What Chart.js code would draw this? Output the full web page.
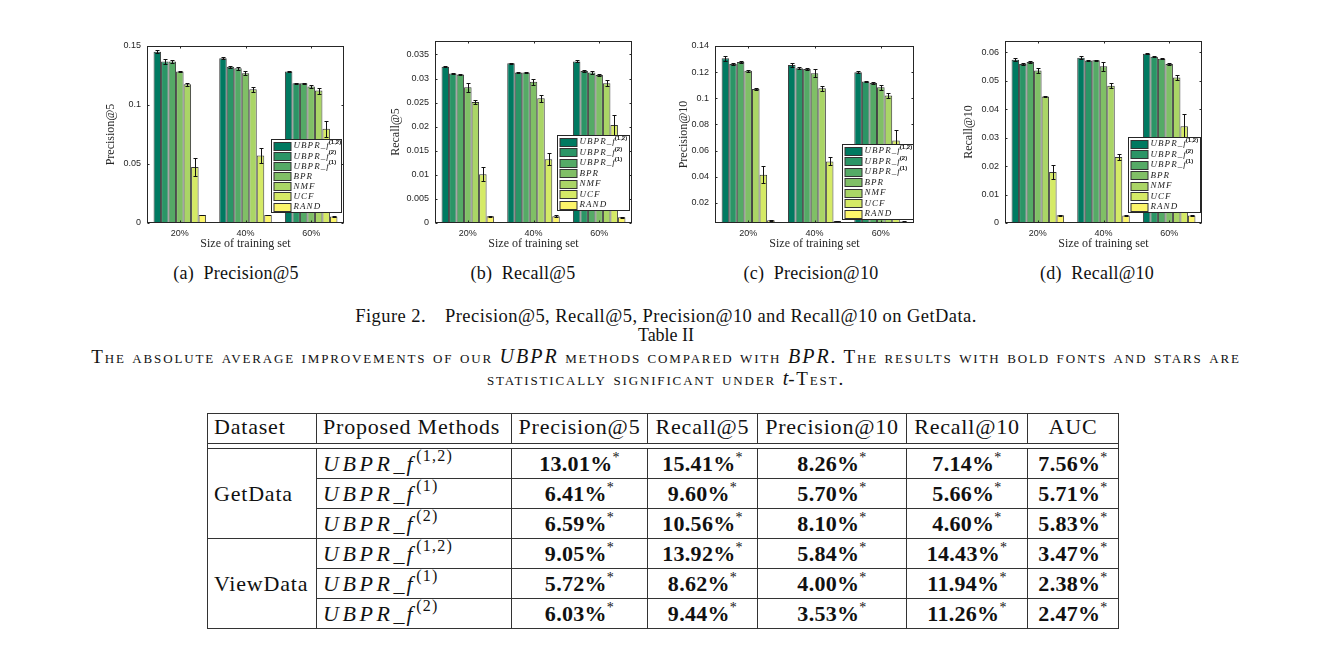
<!DOCTYPE html>
<html><head><meta charset="utf-8">
<script src="https://cdn.jsdelivr.net/npm/chart.js@4.4.1/dist/chart.umd.min.js"></script>
<style>
html,body{margin:0;padding:0;background:#fff;}
body{width:1318px;height:666px;position:relative;overflow:hidden;font-family:"Liberation Serif","Times New Roman",serif;color:#111;}
canvas{position:absolute;}
.t{position:absolute;text-align:center;white-space:nowrap;font-size:18px;line-height:22px;}
.cap{letter-spacing:0.25px;}
.fig{font-size:18.5px;letter-spacing:0.45px;}
.sc{font-variant:small-caps;font-size:19px;letter-spacing:1.85px;}
.mi{font-style:italic;font-variant:normal;letter-spacing:2px;font-size:20px;}
table{position:absolute;left:207px;top:413px;border-collapse:collapse;table-layout:fixed;font-size:22px;}
td,th{border:1px solid #333;padding:0 6px;height:29px;line-height:29px;font-weight:normal;white-space:nowrap;overflow:visible;}
th{text-align:center;letter-spacing:0.8px;line-height:26px;padding-bottom:3px;height:26px;}
th.l,td.l{text-align:left;}
td.ds{letter-spacing:0.8px;}
td.v{text-align:center;font-weight:bold;letter-spacing:0.3px;}
td.v sup,td.m sup{font-weight:normal;font-size:14px;line-height:0;vertical-align:9px;}
td.m{text-align:left;}
td.m i{letter-spacing:3.6px;}
td.m sup{font-size:16px;vertical-align:10px;letter-spacing:1.2px;}
tr.gap td{height:4px;padding:0;line-height:0;border-left:1px solid #333;border-right:1px solid #333;}
td.ds{vertical-align:middle;}
</style>
</head><body>
<canvas id="c0"></canvas><canvas id="c1"></canvas><canvas id="c2"></canvas><canvas id="c3"></canvas>

<div class="t cap" style="top:262px;left:86px;width:300px">(a)&nbsp; Precision@5</div>
<div class="t cap" style="top:262px;left:373px;width:300px">(b)&nbsp; Recall@5</div>
<div class="t cap" style="top:262px;left:661px;width:300px">(c)&nbsp; Precision@10</div>
<div class="t cap" style="top:262px;left:947px;width:300px">(d)&nbsp; Recall@10</div>

<div class="t fig" style="top:305px;left:166px;width:1000px">Figure 2.&emsp;Precision@5, Recall@5, Precision@10 and Recall@10 on GetData.</div>
<div class="t" style="top:324px;left:166px;width:1000px">Table II</div>
<div class="t sc" style="top:345px;left:0px;width:1332px">The absolute average improvements of our <span class="mi">UBPR</span> methods compared with <span class="mi">BPR</span>. The results with bold fonts and stars are</div>
<div class="t sc" style="top:367px;left:0px;width:1332px">statistically significant under <span class="mi" style="letter-spacing:0">t</span>-Test.</div>

<table id="tbl">
<colgroup><col style="width:109px"><col style="width:195px"><col style="width:136px"><col style="width:110px"><col style="width:149px"><col style="width:121px"><col style="width:91px"></colgroup>
<thead><tr id="hdr"></tr></thead>
<tbody id="tb"></tbody>
</table>

<script>
// ---------------- data ----------------
const groups = ['20%', '40%', '60%'];
const methodBase = ['UBPR_f', 'UBPR_f', 'UBPR_f', 'BPR', 'NMF', 'UCF', 'RAND'];
const methodSup = ['(1,2)', '(2)', '(1)', '', '', '', ''];

// rows = methods (in methodBase order), columns = groups
const precision5 = [
  [0.1452, 0.1396, 0.1283],
  [0.1368, 0.1325, 0.1184],
  [0.1368, 0.1311, 0.1184],
  [0.1283, 0.1269, 0.1156],
  [0.1176, 0.1133, 0.1122],
  [0.0474, 0.0572, 0.0798],
  [0.0068, 0.0068, 0.0056]
];
const precision5Err = [
  [0.0012, 0.0010, 0.0004],
  [0.0020, 0.0008, 0.0005],
  [0.0015, 0.0015, 0.0005],
  [0.0004, 0.0015, 0.0010],
  [0.0013, 0.0020, 0.0025],
  [0.0076, 0.0060, 0.0070],
  [0.0003, 0.0002, 0.0003]
];
const recall5 = [
  [0.03245, 0.03320, 0.03355],
  [0.03106, 0.03127, 0.03155],
  [0.03086, 0.03127, 0.03127],
  [0.02817, 0.02934, 0.03072],
  [0.02513, 0.02589, 0.02900],
  [0.01015, 0.01325, 0.02036],
  [0.00138, 0.00138, 0.00117]
];
const recall5Err = [
  [0.0001, 0.0001, 0.0002],
  [0.0001, 0.0001, 0.0002],
  [0.0001, 0.0001, 0.0004],
  [0.0009, 0.0006, 0.0002],
  [0.0004, 0.0007, 0.0006],
  [0.0014, 0.0013, 0.0021],
  [0.0001, 0.0002, 0.0001]
];
const precision10 = [
  [0.1306, 0.1255, 0.1199],
  [0.1263, 0.1230, 0.1128],
  [0.1278, 0.1224, 0.1118],
  [0.1210, 0.1192, 0.1085],
  [0.1072, 0.1077, 0.1021],
  [0.0416, 0.0518, 0.0678],
  [0.0068, 0.0063, 0.0058]
];
const precision10Err = [
  [0.0020, 0.0015, 0.0008],
  [0.0008, 0.0006, 0.0003],
  [0.0008, 0.0010, 0.0008],
  [0.0006, 0.0030, 0.0020],
  [0.0006, 0.0020, 0.0020],
  [0.0065, 0.0030, 0.0078],
  [0.0002, 0.0002, 0.0002]
];
const recall10 = [
  [0.0574, 0.0581, 0.0595],
  [0.0559, 0.0571, 0.0585],
  [0.0566, 0.0572, 0.0578],
  [0.0536, 0.0551, 0.0559],
  [0.0445, 0.0483, 0.0512],
  [0.0179, 0.0232, 0.0340],
  [0.0027, 0.0026, 0.0026]
];
const recall10Err = [
  [0.0006, 0.0006, 0.0002],
  [0.0002, 0.0002, 0.0002],
  [0.0002, 0.0002, 0.0002],
  [0.0008, 0.0015, 0.0004],
  [0.0002, 0.0010, 0.0010],
  [0.0025, 0.0012, 0.0043],
  [0.0002, 0.0001, 0.0001]
];

const p5Ticks = [0, 0.05, 0.1, 0.15];
const p5TickLabels = ['0', '0.05', '0.1', '0.15'];
const r5Ticks = [0, 0.005, 0.01, 0.015, 0.02, 0.025, 0.03, 0.035];
const r5TickLabels = ['0', '0.005', '0.01', '0.015', '0.02', '0.025', '0.03', '0.035'];
const p10Ticks = [0.02, 0.04, 0.06, 0.08, 0.1, 0.12, 0.14];
const p10TickLabels = ['0.02', '0.04', '0.06', '0.08', '0.1', '0.12', '0.14'];
const r10Ticks = [0, 0.01, 0.02, 0.03, 0.04, 0.05, 0.06];
const r10TickLabels = ['0', '0.01', '0.02', '0.03', '0.04', '0.05', '0.06'];

// table
const tableHeader = ['Dataset', 'Proposed Methods', 'Precision@5', 'Recall@5', 'Precision@10', 'Recall@10', 'AUC'];
const tableDatasets = ['GetData', 'ViewData'];
const tableMethodSup = ['(1,2)', '(1)', '(2)'];
const getDataRows = [
  ['13.01%', '15.41%', '8.26%', '7.14%', '7.56%'],
  ['6.41%', '9.60%', '5.70%', '5.66%', '5.71%'],
  ['6.59%', '10.56%', '8.10%', '4.60%', '5.83%']
];
const viewDataRows = [
  ['9.05%', '13.92%', '5.84%', '14.43%', '3.47%'],
  ['5.72%', '8.62%', '4.00%', '11.94%', '2.38%'],
  ['6.03%', '9.44%', '3.53%', '11.26%', '2.47%']
];

// ---------------- style ----------------
const barColors = ['#007a61', '#2b9566', '#55aa66', '#80bf66', '#aad566', '#d5ea66', '#fcf56a'];
const axisColor = '#262626';

// ---------------- table build ----------------
(function(){
  const hdr = document.getElementById('hdr');
  tableHeader.forEach((h, i) => {
    const th = document.createElement('th');
    th.textContent = h;
    if (i < 2) th.className = 'l';
    hdr.appendChild(th);
  });
  const tb = document.getElementById('tb');
  const gap = document.createElement('tr'); gap.className = 'gap';
  gap.innerHTML = '<td colspan="7"></td>'; tb.appendChild(gap);
  [getDataRows, viewDataRows].forEach((rows, gi) => {
    rows.forEach((r, ri) => {
      const tr = document.createElement('tr');
      let html = '';
      if (ri === 0) html += '<td class="l ds" rowspan="3">' + tableDatasets[gi] + '</td>';
      html += '<td class="m"><i>UBPR</i><span style="letter-spacing:2px">_</span><i>f</i><sup>' + tableMethodSup[ri] + '</sup></td>';
      r.forEach(v => { html += '<td class="v">' + v + '<sup>*</sup></td>'; });
      tr.innerHTML = html;
      tb.appendChild(tr);
    });
  });
})();

// ---------------- plugin: frame, inward ticks, error bars, legend ----------------
const paperPlugin = {
  id: 'paper',
  afterDatasetsDraw(chart, args, opts) {
    const ctx = chart.ctx, ca = chart.chartArea;
    const xs = chart.scales.x, ys = chart.scales.y;
    ctx.save();
    ctx.beginPath();
    ctx.rect(ca.left, ca.top, ca.right - ca.left, ca.bottom - ca.top);
    ctx.clip();
    ctx.strokeStyle = '#111';
    ctx.lineWidth = 1;
    chart.data.datasets.forEach((ds, di) => {
      const meta = chart.getDatasetMeta(di);
      meta.data.forEach((bar, i) => {
        const v = ds.data[i], e = ds.errors[i];
        const yt = Math.round(ys.getPixelForValue(v + e)) + 0.5;
        const yb = Math.round(ys.getPixelForValue(v - e)) + 0.5;
        const cx = Math.round(bar.x) + 0.5;
        ctx.beginPath();
        ctx.moveTo(cx, yt); ctx.lineTo(cx, yb);
        ctx.moveTo(cx - 2, yt); ctx.lineTo(cx + 2, yt);
        ctx.moveTo(cx - 2, yb); ctx.lineTo(cx + 2, yb);
        ctx.stroke();
      });
    });
    ctx.restore();
    ctx.save();
    ctx.strokeStyle = axisColor;
    ctx.lineWidth = 1;
    const L = Math.round(ca.left) + 0.5, R = Math.round(ca.right) - 0.5;
    const T = Math.round(ca.top) + 0.5, B = Math.round(ca.bottom) - 0.5;
    ctx.strokeRect(L, T, R - L, B - T);
    ctx.beginPath();
    ys.ticks.forEach(t => {
      const py = Math.round(ys.getPixelForValue(t.value)) + 0.5;
      ctx.moveTo(L, py); ctx.lineTo(L + 2, py);
      ctx.moveTo(R, py); ctx.lineTo(R - 2, py);
    });
    xs.ticks.forEach((t, i) => {
      const px = Math.round(xs.getPixelForTick(i)) + 0.5;
      ctx.moveTo(px, B); ctx.lineTo(px, B - 2);
      ctx.moveTo(px, T); ctx.lineTo(px, T + 2);
    });
    ctx.stroke();
    // legend
    const lg = opts.legend;
    const lw = lg.w, lh = lg.h;
    const lx = Math.round(ca.right - lg.right - lw) + 0.5;
    const ly = Math.round(ca.bottom - lg.bottom - lh) + 0.5;
    ctx.fillStyle = '#fff';
    ctx.fillRect(lx, ly, lw, lh);
    ctx.strokeStyle = axisColor;
    ctx.strokeRect(lx, ly, lw, lh);
    const n = chart.data.datasets.length;
    const pitch = (lh - 12) / (n - 1);
    chart.data.datasets.forEach((ds, i) => {
      const cy = ly + 6 + i * pitch;
      ctx.fillStyle = ds.backgroundColor;
      ctx.fillRect(lx + 2.5, Math.round(cy - 4) + 0.5, 17, 8);
      ctx.strokeStyle = '#333';
      ctx.strokeRect(lx + 2.5, Math.round(cy - 4) + 0.5, 17, 8);
      ctx.fillStyle = '#1a1a1a';
      ctx.textBaseline = 'middle';
      ctx.textAlign = 'left';
      ctx.font = 'italic 9px "Liberation Serif"';
      ctx.letterSpacing = '1.05px';
      const base = ds.legendBase;
      ctx.fillText(base, lx + 22, cy + 0.5);
      const w = ctx.measureText(base).width;
      if (ds.legendSup) {
        ctx.font = 'bold 6px "Liberation Sans"';
        ctx.letterSpacing = '0px';
        ctx.fillText(ds.legendSup, lx + 21 + w, cy - 3);
      }
      ctx.letterSpacing = '0px';
    });
    ctx.restore();
  }
};

// ---------------- charts ----------------
const charts = [
  { id: 'c0', values: precision5, errs: precision5Err, ticks: p5Ticks, labels: p5TickLabels,
    min: 0, max: 0.15, title: 'Precision@5',
    frame: { l: 147, r: 344, t: 46, b: 223 }, yTitlePad: 17, legend: { w: 70, h: 73, right: 3, bottom: 11 } },
  { id: 'c1', values: recall5, errs: recall5Err, ticks: r5Ticks, labels: r5TickLabels,
    min: 0, max: 0.0378, title: 'Recall@5',
    frame: { l: 435, r: 632, t: 41, b: 223 }, yTitlePad: 14, legend: { w: 72, h: 75, right: 3, bottom: 13 } },
  { id: 'c2', values: precision10, errs: precision10Err, ticks: p10Ticks, labels: p10TickLabels,
    min: 0.0047, max: 0.14, title: 'Precision@10',
    frame: { l: 715, r: 914, t: 46, b: 223 }, yTitlePad: 22, legend: { w: 71, h: 75, right: 1, bottom: 4 } },
  { id: 'c3', values: recall10, errs: recall10Err, ticks: r10Ticks, labels: r10TickLabels,
    min: 0, max: 0.064, title: 'Recall@10',
    frame: { l: 1005, r: 1202, t: 41, b: 223 }, yTitlePad: 17, legend: { w: 72, h: 75, right: 2, bottom: 11 } }
];

const CAN_TOP = 28, CAN_BOTTOM = 258, YW = 60, PADR = 8;

charts.forEach(spec => {
  const cv = document.getElementById(spec.id);
  const left = spec.frame.l - YW;
  const width = spec.frame.r - spec.frame.l + YW + PADR;
  const height = CAN_BOTTOM - CAN_TOP;
  cv.style.left = left + 'px';
  cv.style.top = CAN_TOP + 'px';
  cv.width = width; cv.height = height;
  cv.style.width = width + 'px'; cv.style.height = height + 'px';
  const datasets = spec.values.map((row, i) => ({
    label: methodBase[i] + methodSup[i],
    legendBase: methodBase[i],
    legendSup: methodSup[i],
    data: row,
    errors: spec.errs[i],
    backgroundColor: barColors[i],
    borderColor: '#3a3a3a',
    borderWidth: 1,
    barPercentage: 1.0,
    categoryPercentage: 0.8
  }));
  new Chart(cv, {
    type: 'bar',
    data: { labels: groups, datasets },
    options: {
      responsive: false,
      animation: false,
      devicePixelRatio: 1,
      layout: { padding: { top: spec.frame.t - CAN_TOP, right: PADR, left: 0, bottom: 0 }, autoPadding: false },
      plugins: {
        legend: { display: false },
        tooltip: { enabled: false },
        paper: { legend: spec.legend }
      },
      scales: {
        x: {
          type: 'category',
          offset: true,
          grid: { display: false, drawTicks: false },
          border: { display: false },
          ticks: { font: { family: 'Liberation Sans', size: 9 }, color: axisColor, padding: 5, maxRotation: 0 },
          title: { display: true, text: 'Size of training set', color: axisColor,
                   font: { family: 'Liberation Serif', size: 12 }, padding: { top: 0, bottom: 7 } },
          afterFit: s => { s.height = CAN_BOTTOM - spec.frame.b; }
        },
        y: {
          min: spec.min, max: spec.max,
          afterBuildTicks: s => { s.ticks = spec.ticks.map(v => ({ value: v })); },
          grid: { display: false, drawTicks: false },
          border: { display: false },
          ticks: {
            font: { family: 'Liberation Sans', size: 9 }, color: axisColor, padding: 6,
            callback: (v) => spec.labels[spec.ticks.indexOf(v)]
          },
          title: { display: true, text: spec.title, color: axisColor,
                   font: { family: 'Liberation Serif', size: 12 }, padding: { top: spec.yTitlePad, bottom: 0 } },
          afterFit: s => { s.width = YW; }
        }
      }
    },
    plugins: [paperPlugin]
  });
});
</script>
</body></html>
